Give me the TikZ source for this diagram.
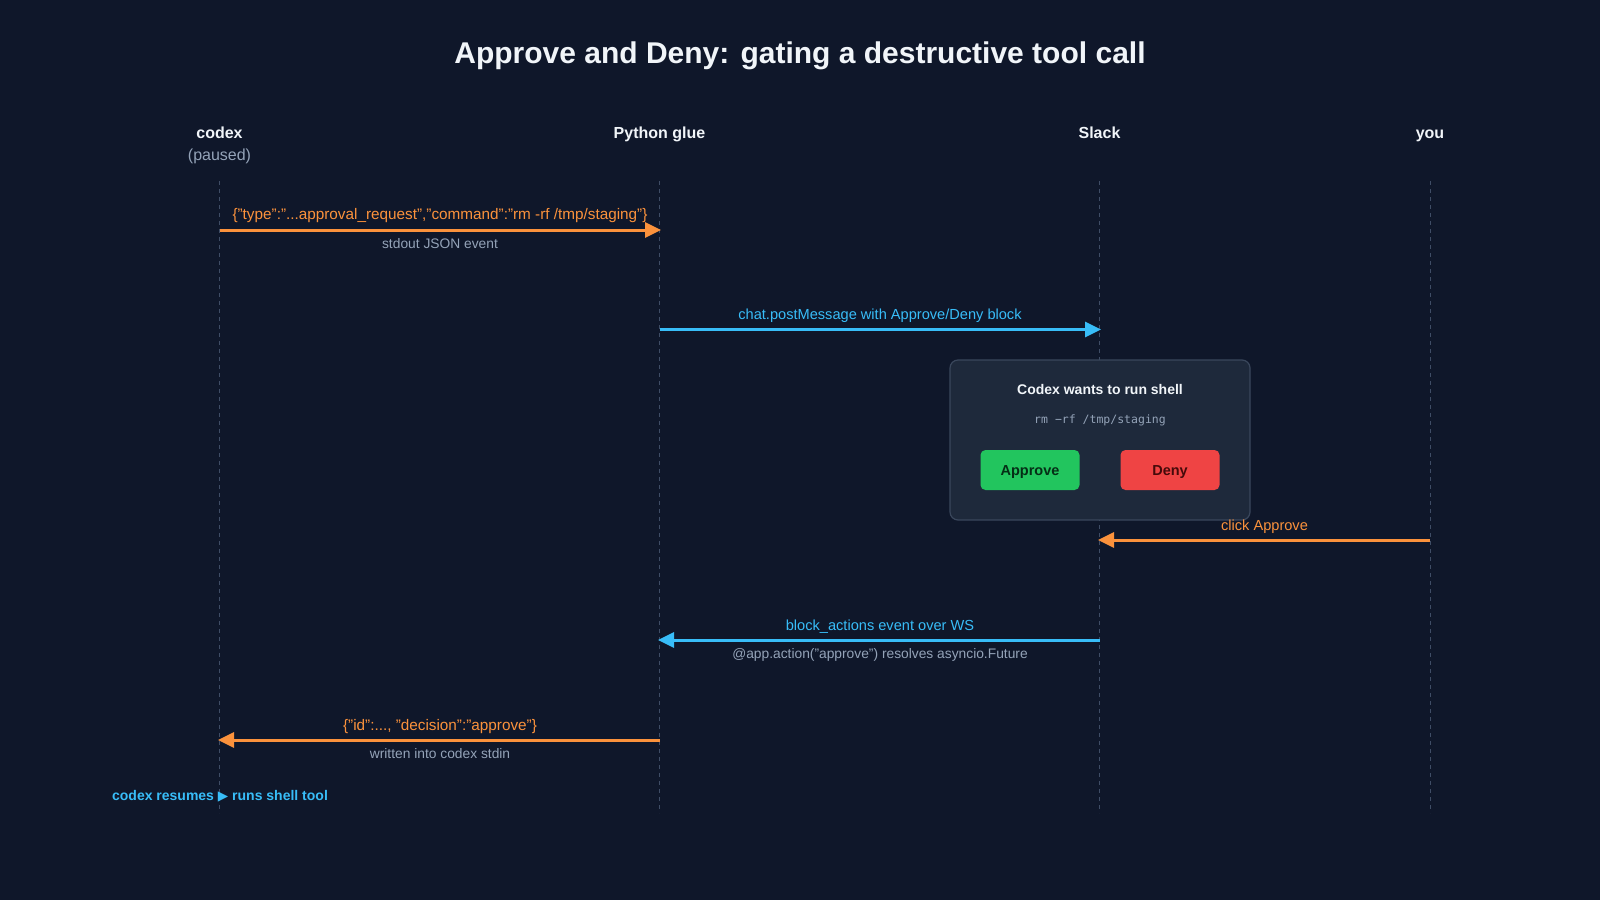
\documentclass[tikz,border=0pt]{standalone}
\usepackage{fontspec}
\setmainfont{Liberation Sans}
\newfontfamily\monof{DejaVu Sans Mono}
\newfontfamily\symf{DejaVu Sans}
\usetikzlibrary{arrows.meta}
\definecolor{bg}{HTML}{0F172A}
\definecolor{org}{HTML}{FB923C}
\definecolor{blu}{HTML}{38BDF8}
\definecolor{gtxt}{HTML}{94A3B8}
\definecolor{htxt}{HTML}{F1F5F9}
\definecolor{lline}{HTML}{3F4D66}
\definecolor{cardf}{HTML}{1E293B}
\definecolor{cardb}{HTML}{3A475C}
\definecolor{grn}{HTML}{22C55E}
\definecolor{red}{HTML}{EF4444}
\definecolor{grnt}{HTML}{052E16}
\definecolor{redt}{HTML}{450A0A}
\newcommand{\fs}[1]{\fontsize{#1}{#1}\selectfont}
\tikzset{
  lifeline/.style={draw=lline, line width=1pt, dash pattern=on 4pt off 4pt},
  hdr/.style={text=htxt, font=\fs{16}\bfseries, inner sep=0pt, anchor=base},
  sub/.style={text=gtxt, font=\fs{16}, inner sep=0pt, anchor=base},
  msgO/.style={draw=org, line width=3pt, -{Triangle[length=16pt,width=15pt]}},
  msgB/.style={draw=blu, line width=3pt, -{Triangle[length=16pt,width=15pt]}},
  labO/.style={text=org, font=\fs{14.6}, inner sep=0pt, anchor=base},
  labB/.style={text=blu, font=\fs{14.6}, inner sep=0pt, anchor=base},
  labG/.style={text=gtxt, font=\fs{13.8}, inner sep=0pt, anchor=base},
  btn/.style={rounded corners=5pt, minimum width=99pt, minimum height=40pt, inner sep=0pt, text height=10.5pt, text depth=0pt, font=\fs{14.5}\bfseries},
}
\begin{document}
\begin{tikzpicture}[x=1pt,y=-1pt]
\useasboundingbox (0,0) rectangle (1600,900);
\fill[bg] (0,0) rectangle (1600,900);
% title
\node[text=htxt, font=\fs{30}\bfseries, inner sep=0pt, anchor=base] (title) at (800,63) {Approve and Deny: gating a destructive tool call};
% headers
\node[hdr] (codex) at (219.5,138) {codex};
\node[sub] (paused) at (219.5,160) {(paused)};
\node[hdr] (glue) at (659.5,138) {Python glue};
\node[hdr] (slack) at (1099.5,138) {Slack};
\node[hdr] (you) at (1430,138) {you};
% lifelines
\foreach \n/\x in {codex/219.5, glue/659.5, slack/1099.5, you/1430}{
  \coordinate (\n T) at (\x,181);
  \coordinate (\n B) at (\x,813);
  \draw[lifeline] (\n T) -- (\n B);
}
% message coordinates
\coordinate (m1a) at (219.5,230);  \coordinate (m1b) at (661,230);
\coordinate (m2a) at (659.5,329.5); \coordinate (m2b) at (1101,329.5);
\coordinate (m3a) at (1430,540);   \coordinate (m3b) at (1098,540);
\coordinate (m4a) at (1099.5,640); \coordinate (m4b) at (658,640);
\coordinate (m5a) at (659.5,740);  \coordinate (m5b) at (218,740);
% card
\draw[fill=cardf, draw=cardb, line width=1.2pt, rounded corners=8pt] (950,360) rectangle (1250,520);
\node[text=htxt, font=\fs{14}\bfseries, inner sep=0pt, anchor=base] (cardtitle) at (1100,394) {Codex wants to run shell};
\node[text=gtxt, font=\monof\fs{11.5}, inner sep=0pt, anchor=base] (cardcmd) at (1100,423) {rm −rf /tmp/staging};
\node[btn, fill=grn, text=grnt] (approve) at (1030,470) {Approve};
\node[btn, fill=red, text=redt] (deny) at (1170,470) {Deny};
% messages
\draw[msgO] (m1a) -- (m1b);
\node[labO, font=\fs{15.3}] (l1) at (440,219) {\{"type":"...approval\_request","command":"rm -rf /tmp/staging"\}};
\node[labG] (l1b) at (440,248) {stdout JSON event};
\draw[msgB] (m2a) -- (m2b);
\node[labB] (l2) at (880,319) {chat.postMessage with Approve/Deny block};
\draw[msgO] (m3a) -- (m3b);
\node[labO] (l3) at (1264.5,530) {click Approve};
\draw[msgB] (m4a) -- (m4b);
\node[labB] (l4) at (880,630) {block\_actions event over WS};
\node[labG] (l4b) at (880,658) {@app.action("approve") resolves asyncio.Future};
\draw[msgO] (m5a) -- (m5b);
\node[labO, font=\fs{15.3}] (l5) at (440,730) {\{"id":..., "decision":"approve"\}};
\node[labG] (l5b) at (440,758) {written into codex stdin};
\node[text=blu, font=\fs{14}\bfseries, inner sep=0pt, anchor=base] (resume) at (220,800) {codex resumes {\symf\fs{13.5}▶} runs shell tool};
\end{tikzpicture}
\end{document}
